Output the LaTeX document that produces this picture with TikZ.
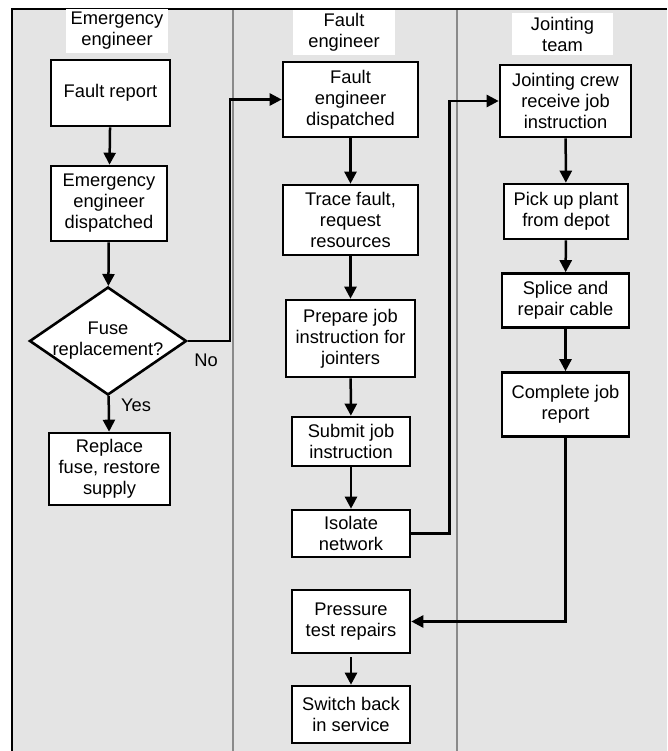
\documentclass[tikz,border=0pt]{standalone}
\usepackage{fontspec}
\setmainfont{Liberation Sans}
\usetikzlibrary{arrows.meta,shapes.geometric}
\definecolor{lanebg}{HTML}{E4E4E4}
\definecolor{laneline}{HTML}{8A8A8A}
\tikzset{
  box/.style={draw=black, line width=2.6pt, fill=white, inner sep=0pt, align=center,
    font=\fontsize{18.3}{21}\selectfont},
  decision/.style={diamond, draw=black, line width=2.6pt, fill=white, inner sep=0pt},
  lanehead/.style={fill=white, inner sep=0pt, align=center,
    font=\fontsize{18.3}{21}\selectfont},
  lbl/.style={inner sep=0pt, font=\fontsize{18.3}{21}\selectfont},
  flow/.style={line width=2.5pt, -{Triangle[length=12pt,width=12pt]}},
  link/.style={line width=2.5pt}
}
\begin{document}
\begin{tikzpicture}[x=1pt,y=-1pt]
\useasboundingbox (0,0) rectangle (667,751);

% swimlane background and dividers
\fill[lanebg] (12,9) rectangle (667,751);
\draw[laneline, line width=2pt] (233,9) -- (233,751);
\draw[laneline, line width=2pt] (457,9) -- (457,751);
\draw[black, line width=2.5pt] (12,751) -- (12,9) -- (667,9);

% lane headings
\node[lanehead, minimum width=102, minimum height=44] (h1) at (117,31) {Emergency\\engineer};
\node[lanehead, minimum width=102, minimum height=45] (h2) at (344,32.5) {Fault\\engineer};
\node[lanehead, minimum width=101, minimum height=42] (h3) at (562.5,34) {Jointing\\team};

% emergency engineer lane
\node[box, minimum width=119, minimum height=66] (fr) at (110.5,93) {Fault report};
\node[box, minimum width=116, minimum height=75] (eed) at (109,203.5) {Emergency\\engineer\\dispatched};
\node[decision, minimum width=157, minimum height=108] (fuse) at (108,341) {};
\node[lbl, align=center] (fusetxt) at (fuse) {Fuse\\replacement?};
\node[box, minimum width=121, minimum height=72] (rf) at (109.5,469) {Replace\\fuse, restore\\supply};

% fault engineer lane
\node[box, minimum width=135, minimum height=75] (fed) at (350.5,99.5) {Fault\\engineer\\dispatched};
\node[box, minimum width=135, minimum height=70] (tf) at (350.5,220) {Trace fault,\\request\\resources};
\node[box, minimum width=129, minimum height=77] (pj) at (350.5,338.5) {Prepare job\\instruction for\\jointers};
\node[box, minimum width=118, minimum height=49] (sj) at (351,441.5) {Submit job\\instruction};
\node[box, minimum width=118, minimum height=47] (iso) at (351,533.5) {Isolate\\network};
\node[box, minimum width=118, minimum height=63] (pt) at (351,621.5) {Pressure\\test repairs};
\node[box, minimum width=118, minimum height=57] (sb) at (351,714.5) {Switch back\\in service};

% jointing team lane
\node[box, minimum width=131, minimum height=72] (jcr) at (565.5,101) {Jointing crew\\receive job\\instruction};
\node[box, minimum width=124, minimum height=55] (pu) at (566,211.5) {Pick up plant\\from depot};
\node[box, minimum width=127, minimum height=54] (sp) at (565.5,300.5) {Splice and\\repair cable};
\node[box, minimum width=127, minimum height=64] (cj) at (565.5,404.5) {Complete job\\report};

% connectors
\draw[flow] (fr) -- (eed);
\draw[flow] (eed) -- (fuse);
\draw[flow] (fuse) -- (rf);
\draw[flow] (fuse.east) -- ++(42,0) |- (fed.west);
\draw[flow] (fed) -- (tf);
\draw[flow] (tf) -- (pj);
\draw[flow] (pj) -- (sj);
\draw[flow] (sj) -- (iso);
\draw[flow] (iso.east) -- ++(38,0) |- (jcr.west);
\draw[flow] (jcr) -- (pu);
\draw[flow] (pu) -- (sp);
\draw[flow] (sp) -- (cj);
\draw[flow] (cj.south) |- (pt.east);
\draw[flow, shorten <=3pt] (pt) -- (sb);

% branch labels
\node[lbl] (no) at (206,360) {No};
\node[lbl] (yes) at (136,405) {Yes};
\end{tikzpicture}
\end{document}
